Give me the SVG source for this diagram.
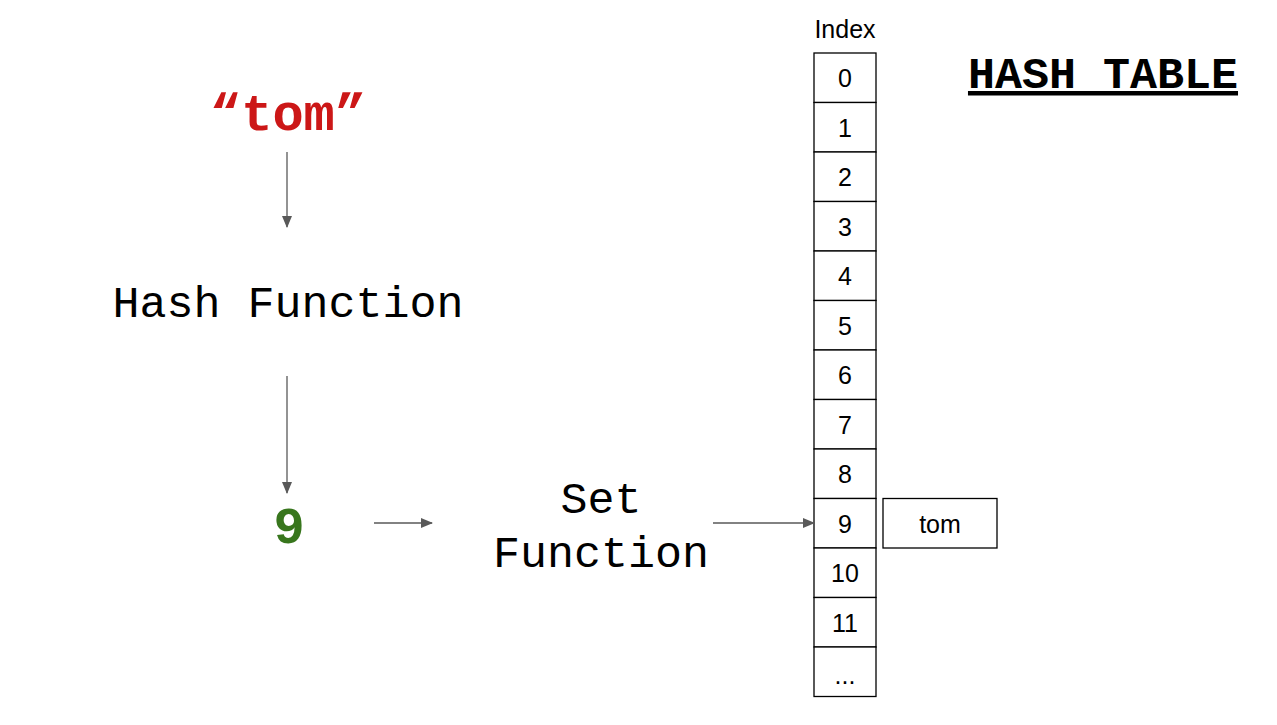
<svg xmlns="http://www.w3.org/2000/svg" width="1277" height="725" viewBox="0 0 1277 725">
<style>
.mono{font-family:"Liberation Mono","Courier New",monospace;}
.sans{font-family:"Liberation Sans",Arial,sans-serif;font-size:25px;fill:#000;text-anchor:middle;}
.cell{fill:#fff;stroke:#000;stroke-width:1.3;}
.conn{stroke:#595959;stroke-width:1.3;fill:none;marker-end:url(#ah);}
</style>
<defs>
<marker id="ah" markerWidth="12" markerHeight="12" refX="11" refY="5.5" orient="auto" markerUnits="userSpaceOnUse">
<path d="M0,0.5 L12,5.5 L0,10.5 Z" fill="#595959"/>
</marker>
</defs>
<rect width="1277" height="725" fill="#fff"/>
<g id="input"><text x="288" y="130" class="mono" font-size="52" font-weight="bold" fill="#cc1717" text-anchor="middle">“tom”</text></g>
<g id="hash-function"><text x="288" y="317" class="mono" font-size="45" fill="#000" text-anchor="middle">Hash Function</text></g>
<g id="hash-value"><text x="289" y="543" class="mono" font-size="52" font-weight="bold" fill="#38761d" text-anchor="middle">9</text></g>
<g id="set-function"><text class="mono" font-size="45" fill="#000" text-anchor="middle"><tspan x="601" y="513">Set</tspan><tspan x="601" y="567">Function</tspan></text></g>
<g id="title"><text x="1103" y="88" class="mono" font-size="45" font-weight="bold" fill="#000" text-anchor="middle" text-decoration="underline">HASH TABLE</text></g>
<g id="table">
<text x="845" y="38" class="sans">Index</text>
<rect class="cell" x="814" y="53" width="62" height="49.5"/><text x="845" y="87" class="sans">0</text>
<rect class="cell" x="814" y="102.5" width="62" height="49.5"/><text x="845" y="137" class="sans">1</text>
<rect class="cell" x="814" y="152" width="62" height="49.5"/><text x="845" y="186" class="sans">2</text>
<rect class="cell" x="814" y="201.5" width="62" height="49.5"/><text x="845" y="236" class="sans">3</text>
<rect class="cell" x="814" y="251" width="62" height="49.5"/><text x="845" y="285" class="sans">4</text>
<rect class="cell" x="814" y="300.5" width="62" height="49.5"/><text x="845" y="335" class="sans">5</text>
<rect class="cell" x="814" y="350" width="62" height="49.5"/><text x="845" y="384" class="sans">6</text>
<rect class="cell" x="814" y="399.5" width="62" height="49.5"/><text x="845" y="434" class="sans">7</text>
<rect class="cell" x="814" y="449" width="62" height="49.5"/><text x="845" y="483" class="sans">8</text>
<rect class="cell" x="814" y="498.5" width="62" height="49.5"/><text x="845" y="533" class="sans">9</text>
<rect class="cell" x="814" y="548" width="62" height="49.5"/><text x="845" y="582" class="sans">10</text>
<rect class="cell" x="814" y="597.5" width="62" height="49.5"/><text x="845" y="632" class="sans">11</text>
<rect class="cell" x="814" y="647" width="62" height="49.5"/><text x="845" y="684" class="sans">...</text>
</g>
<g id="entry"><rect class="cell" x="883" y="498.5" width="114" height="49.5"/><text x="940" y="533" class="sans">tom</text></g>
<g id="connectors">
<line class="conn" x1="287" y1="152" x2="287" y2="227"/>
<line class="conn" x1="287" y1="376" x2="287" y2="493"/>
<line class="conn" x1="374" y1="523" x2="432" y2="523"/>
<line class="conn" x1="713" y1="523" x2="814" y2="523"/>
</g>
</svg>
